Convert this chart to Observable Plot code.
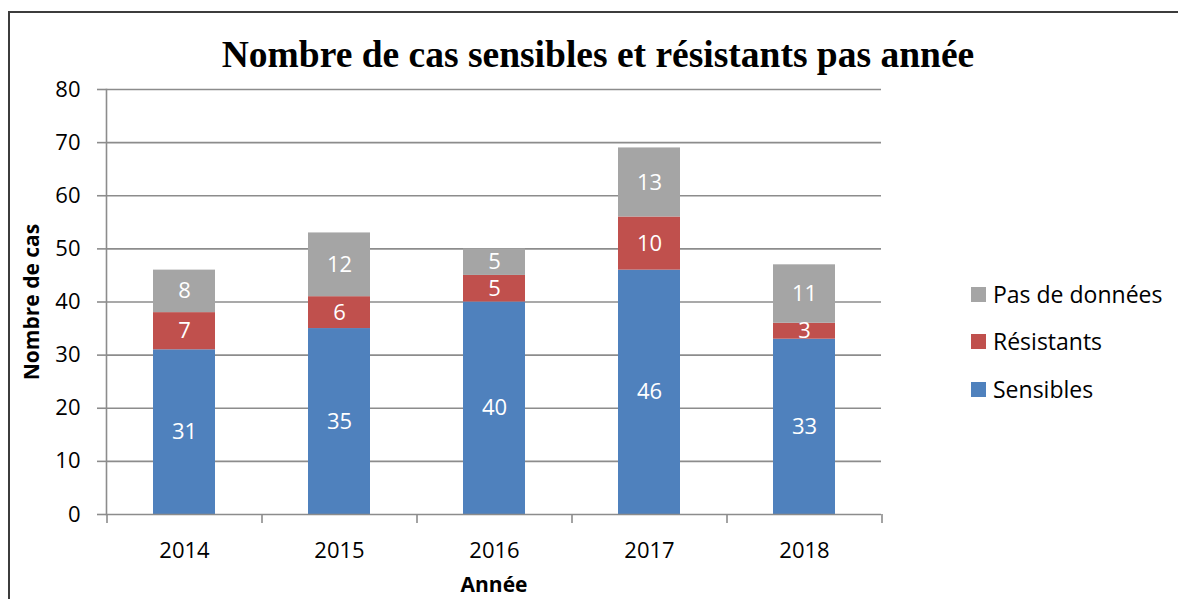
<!DOCTYPE html>
<html>
<head>
<meta charset="utf-8">
<script src="https://cdn.jsdelivr.net/npm/d3@7"></script>
<script src="https://cdn.jsdelivr.net/npm/@observablehq/plot@0.6"></script>
<style>
  body { margin: 0; background: #fff; }
  #wrap { position: relative; width: 1178px; height: 599px; overflow: hidden; font-family: "Open Sans", sans-serif; background: #fff; }
  #frame { position: absolute; left: 8px; top: 11px; width: 1300px; height: 800px; border-left: 2px solid #3c3c3c; border-top: 2px solid #3c3c3c; box-sizing: border-box; }
  #title { position: absolute; left: 0; top: 36px; width: 1196px; text-align: center; font: bold 37.5px "Liberation Serif", serif; line-height: 37px; color: #000; white-space: nowrap; }
  #chart { position: absolute; left: 0; top: 0; }
  #legend { position: absolute; left: 971px; top: 0; font-size: 23px; color: #000; }
  .item { position: absolute; left: 0; display: flex; align-items: center; white-space: nowrap; height: 30px; }
  .sw { width: 15px; height: 15px; margin-right: 7px; }
</style>
</head>
<body>
<div id="wrap">
  <div id="frame"></div>
  <div id="chart"></div>
  <div id="title"></div>
  <div id="legend"></div>
</div>
<script>
const titleText = "Nombre de cas sensibles et résistants pas année";
const yTitle = "Nombre de cas";
const xTitle = "Année";
const years = ["2014", "2015", "2016", "2017", "2018"];
const series = ["Sensibles", "Résistants", "Pas de données"];
const colors = ["#4F81BD", "#C0504D", "#A5A5A5"];
const sensibles = [31, 35, 40, 46, 33];
const resistants = [7, 6, 5, 10, 3];
const pasDeDonnees = [8, 12, 5, 13, 11];
const yTicks = [0, 10, 20, 30, 40, 50, 60, 70, 80];

const seriesValues = [sensibles, resistants, pasDeDonnees];
const data = [];
series.forEach((s, si) => years.forEach((y, yi) => data.push({year: y, series: s, value: seriesValues[si][yi]})));

const W = 1178, H = 599;
const mL = 106, mR = 297, mT = 89, mB = 85;
const step = (W - mL - mR) / years.length;
const gridColor = "#8c8c8c";

const chart = Plot.plot({
  width: W,
  height: H,
  marginLeft: mL,
  marginRight: mR,
  marginTop: mT,
  marginBottom: mB,
  style: {background: "transparent", fontFamily: "'Open Sans', sans-serif", fontSize: "22px", color: "#000"},
  x: {domain: years, paddingInner: 0.6, paddingOuter: 0.3, axis: null, label: null},
  y: {domain: [0, 80], axis: null, label: null},
  color: {domain: series, range: colors},
  marks: [
    Plot.gridY(yTicks.filter(t => t > 0), {stroke: gridColor, strokeOpacity: 1, strokeWidth: 1.6}),
    Plot.barY(data, {x: "year", y: "value", fill: "series"}),
    Plot.text(data, Plot.stackY({x: "year", y: "value", text: d => String(d.value), fill: "white", fontSize: 22})),
    Plot.ruleY([0], {stroke: gridColor, strokeWidth: 1.6}),
    Plot.frame({anchor: "left", stroke: gridColor, strokeWidth: 1.6}),
    Plot.ruleX(years, {x: d => d, y1: 0, y2: 0, insetBottom: -9, dx: -step / 2, stroke: gridColor, strokeWidth: 1.6}),
    Plot.ruleX(years.slice(-1), {x: d => d, y1: 0, y2: 0, insetBottom: -9, dx: step / 2, stroke: gridColor, strokeWidth: 1.6}),
    Plot.axisY({ticks: yTicks, label: null, tickSize: 9, tickPadding: 17, stroke: gridColor, strokeWidth: 1.6, fill: "black", fontSize: 22, tickFormat: d => String(d)}),
    Plot.axisX({label: null, tickSize: 0, tickPadding: 28, fill: "black", fontSize: 22}),
    Plot.text([yTitle], {frameAnchor: "left", dx: -74, rotate: -90, textAnchor: "middle", lineAnchor: "middle", text: d => d, fontWeight: "bold", fontSize: 21, fill: "black"}),
    Plot.text([xTitle], {frameAnchor: "bottom", dy: 71, textAnchor: "middle", lineAnchor: "middle", text: d => d, fontWeight: "bold", fontSize: 21, fill: "black"})
  ]
});
document.getElementById("chart").appendChild(chart);
document.getElementById("title").textContent = titleText;

const legend = document.getElementById("legend");
const rowsY = [295, 342, 390];
series.slice().reverse().forEach((s, i) => {
  const item = document.createElement("div");
  item.className = "item";
  item.style.top = (rowsY[i] - 16) + "px";
  const sw = document.createElement("div");
  sw.className = "sw";
  sw.style.background = colors[series.indexOf(s)];
  const t = document.createElement("span");
  t.textContent = s;
  item.appendChild(sw);
  item.appendChild(t);
  legend.appendChild(item);
});
</script>
</body>
</html>
